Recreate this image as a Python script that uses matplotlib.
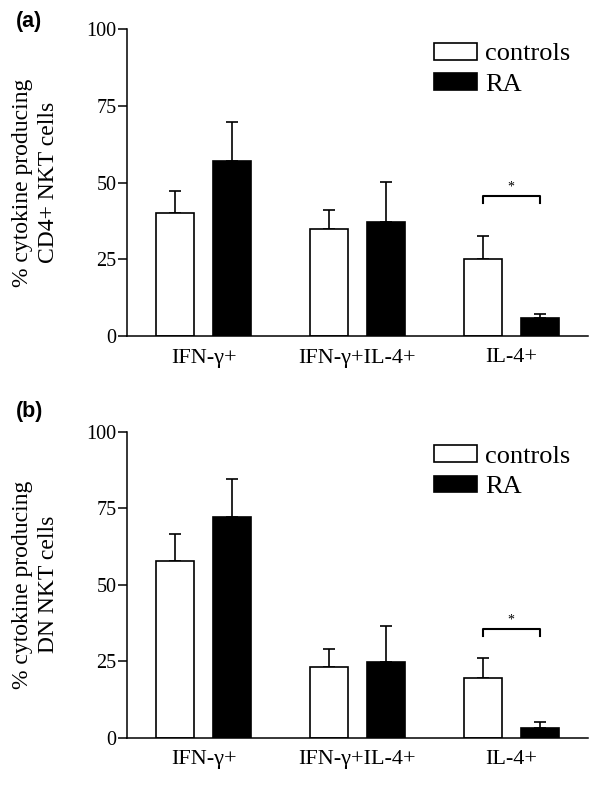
import matplotlib
matplotlib.use('Agg')
import matplotlib.pyplot as plt
from matplotlib.patches import Patch
import numpy as np

# data
groups = ['IFN-\u03b3+', 'IFN-\u03b3+IL-4+', 'IL-4+']
series = ['controls', 'RA']
a_controls = [40.0, 34.7, 25.0]
a_controls_err = [7.1, 6.3, 7.5]
a_ra = [57.1, 37.0, 5.8]
a_ra_err = [12.6, 13.1, 1.5]
b_controls = [57.6, 23.0, 19.4]
b_controls_err = [8.9, 6.0, 6.7]
b_ra = [72.2, 24.7, 3.3]
b_ra_err = [12.2, 11.8, 1.9]
a_bracket = 45.5
b_bracket = 35.5
yticks = [0, 25, 50, 75, 100]

plt.rcParams['font.family'] = ['Liberation Serif', 'DejaVu Serif']

fig = plt.figure(figsize=(6.0, 7.91), dpi=100)

def panel(rect, ctrl, ctrl_err, ra, ra_err, bracket, ylabel, tag, tag_y):
	ax = fig.add_axes(rect)
	x = np.arange(len(groups))
	w = 0.247
	off = 0.185
	ax.bar(x - off, ctrl, w, color='white', edgecolor='black', linewidth=1.2, zorder=2)
	ax.bar(x + off, ra, w, color='black', edgecolor='black', linewidth=1.2, zorder=2)
	ax.errorbar(x - off, ctrl, yerr=[np.zeros(3), ctrl_err], fmt='none', ecolor='black',
		elinewidth=1.2, capsize=4, capthick=1.2, zorder=1)
	ax.errorbar(x + off, ra, yerr=[np.zeros(3), ra_err], fmt='none', ecolor='black',
		elinewidth=1.2, capsize=4, capthick=1.2, zorder=1)
	# significance bracket over IL-4+
	x1, x2 = x[2] - off, x[2] + off
	ax.plot([x1, x1, x2, x2], [bracket - 2.3, bracket, bracket, bracket - 2.3], color='black', lw=1.5)
	ax.text((x1 + x2) / 2, bracket + 0.8, '*', ha='center', va='bottom', fontsize=10)
	ax.set_xlim(-0.5, 2.5)
	ax.set_ylim(0, 100)
	ax.set_yticks(yticks)
	ax.set_xticks(x)
	ax.set_xticklabels(groups, fontsize=16)
	ax.tick_params(axis='x', length=0, pad=9)
	ax.tick_params(axis='y', length=6.5, width=1.1, pad=1, labelsize=14.5)
	for s in ['top', 'right']:
		ax.spines[s].set_visible(False)
	for s in ['left', 'bottom']:
		ax.spines[s].set_linewidth(1.1)
	ax.set_ylabel(ylabel, fontsize=17, linespacing=1.3, labelpad=20)
	handles = [Patch(facecolor='white', edgecolor='black', linewidth=1.2),
		Patch(facecolor='black', edgecolor='black', linewidth=1.2)]
	ax.legend(handles, series, loc='upper left', bbox_to_anchor=(0.666, 0.955), frameon=False,
		fontsize=19, borderpad=0, borderaxespad=0, handlelength=1.63, handleheight=0.6,
		handletextpad=0.3, labelspacing=0.28)
	fig.text(16 / 600, tag_y, tag, family='Liberation Sans', fontweight='bold', fontsize=15.5,
		ha='left', va='center')
	return ax

panel([127 / 600, 1 - 336 / 791, 461 / 600, 307 / 791], a_controls, a_controls_err, a_ra, a_ra_err,
	a_bracket, '% cytokine producing\nCD4+ NKT cells', '(a)', 1 - 21 / 791)
panel([127 / 600, 1 - 737.7 / 791, 461 / 600, 306 / 791], b_controls, b_controls_err, b_ra, b_ra_err,
	b_bracket, '% cytokine producing\nDN NKT cells', '(b)', 1 - 411 / 791)

fig.savefig('out.png', dpi=100)
